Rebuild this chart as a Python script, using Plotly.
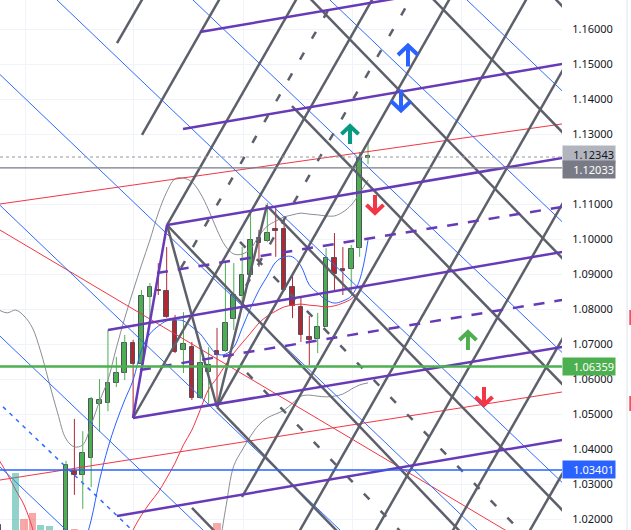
import plotly.graph_objs as go

# свічки: індекс бару і OHLC (EURUSD)
bar_idx = list(range(-8, 37))
opens = [1.0183, 1.0100, 0.9990, 1.0040, 0.9980, 0.9930, 0.9980, 1.0030,
         1.0100, 1.0338, 1.0326, 1.0374, 1.0529, 1.0531, 1.0589, 1.0617,
         1.0703, 1.0643, 1.0834, 1.0855, 1.0851, 1.0766, 1.0683, 1.0691,
         1.0546, 1.0620, 1.0680, 1.0680, 1.0771, 1.0837, 1.0897, 1.1003,
         1.0994, 1.1029, 1.1029, 1.0863, 1.0806, 1.0720, 1.0714, 1.0749,
         1.0946, 1.0914, 1.0914, 1.0974, 1.1232]
highs = [1.0195, 1.0110, 1.0060, 1.0060, 1.0000, 1.0000, 1.0050, 1.0120,
         1.0366, 1.0486, 1.0451, 1.0549, 1.0600, 1.0740, 1.0663, 1.0726,
         1.0712, 1.0854, 1.0874, 1.0931, 1.0977, 1.0783, 1.0791, 1.0706,
         1.0691, 1.0691, 1.0746, 1.0934, 1.0931, 1.0977, 1.1083, 1.1026,
         1.1103, 1.1092, 1.1054, 1.0900, 1.0834, 1.0780, 1.0789, 1.0974,
         1.1017, 1.0977, 1.0983, 1.1249, 1.1280]
lows = [1.0050, 0.9980, 0.9950, 0.9960, 0.9900, 0.9910, 0.9960, 1.0010,
        1.0080, 1.0269, 1.0229, 1.0291, 1.0449, 1.0508, 1.0577, 1.0597,
        1.0490, 1.0640, 1.0774, 1.0840, 1.0775, 1.0674, 1.0617, 1.0540,
        1.0543, 1.0526, 1.0523, 1.0677, 1.0740, 1.0823, 1.0891, 1.0920,
        1.0991, 1.0949, 1.0852, 1.0774, 1.0706, 1.0640, 1.0674, 1.0749,
        1.0851, 1.0840, 1.0846, 1.0949, 1.1214]
closes = [1.0100, 1.0000, 1.0040, 0.9980, 0.9930, 0.9980, 1.0030, 1.0100,
          1.0354, 1.0326, 1.0389, 1.0543, 1.0540, 1.0589, 1.0617, 1.0703,
          1.0643, 1.0837, 1.0863, 1.0851, 1.0777, 1.0677, 1.0700, 1.0546,
          1.0646, 1.0640, 1.0669, 1.0760, 1.0840, 1.0897, 1.0997, 1.0990,
          1.1017, 1.1023, 1.0854, 1.0809, 1.0726, 1.0711, 1.0749, 1.0946,
          1.0900, 1.0909, 1.0971, 1.1231, 1.12343]

# обсяги (видно лише кілька барів)
vol_idx = [-6, -5, -4, -3, -2, 1, 18]
vol = [108, 21, 32, 9, 8, 2, 13]
vol_up = [True, False, False, True, True, False, False]

# смуги Боллінджера та ковзні середні
bb_upper = [1.0797, 1.0789, 1.0797, 1.0780, 1.0746, 1.0677, 1.0589, 1.0503,
            1.0429, 1.0406, 1.0412, 1.0469, 1.0537, 1.0597, 1.0689, 1.0774,
            1.0852, 1.0926, 1.0997, 1.1074, 1.1134, 1.1172, 1.1174, 1.1163,
            1.1131, 1.1083, 1.1026, 1.0980, 1.0957, 1.0957, 1.0972, 1.1009,
            1.1037, 1.1051, 1.1063, 1.1069, 1.1074, 1.1071, 1.1069, 1.1066,
            1.1066, 1.1077, 1.1097, 1.1131, 1.1169]
bb_lower_idx = list(range(16, 37))
bb_lower = [0.9990, 1.0020, 1.0089, 1.0226, 1.0352, 1.0397, 1.0437, 1.0469,
            1.0489, 1.0500, 1.0511, 1.0531, 1.0551, 1.0554, 1.0551, 1.0549,
            1.0551, 1.0557, 1.0571, 1.0583, 1.0589]
ma_fast_idx = list(range(2, 37))
ma_fast = [1.0112, 1.0197, 1.0311, 1.0403, 1.0477, 1.0540, 1.0597, 1.0683,
           1.0729, 1.0751, 1.0766, 1.0769, 1.0766, 1.0749, 1.0729, 1.0697,
           1.0671, 1.0671, 1.0691, 1.0746, 1.0803, 1.0854, 1.0894, 1.0934,
           1.0949, 1.0949, 1.0923, 1.0869, 1.0846, 1.0826, 1.0817, 1.0823,
           1.0837, 1.0883, 1.0997]
ma_slow = [1.0369, 1.0329, 1.0283, 1.0240, 1.0174, 1.0083, 0.9997, 0.9950,
           0.9920, 0.9900, 0.9900, 0.9920, 0.9960, 1.0000, 1.0060, 1.0110,
           1.0169, 1.0211, 1.0246, 1.0277, 1.0317, 1.0360, 1.0412, 1.0454,
           1.0512, 1.0571, 1.0603, 1.0640, 1.0674, 1.0703, 1.0731, 1.0760,
           1.0780, 1.0794, 1.0806, 1.0811, 1.0814, 1.0811, 1.0809, 1.0806,
           1.0809, 1.0817, 1.0829, 1.0854, 1.0894]

# малюнки: відрізки [бар0, ціна0, бар1, ціна1]
gann_up = [[6.079, 1.15600, 10.417, 1.17400], [9.058, 1.12972, 19.595, 1.17400],
           [12.038, 1.10400, 28.772, 1.17400], [7.986, 1.04886, 37.831, 1.17400],
           [17.998, 1.05200, 47.008, 1.17400], [20.977, 1.02629, 56.186, 1.17400],
           [26.544, 1.01115, 61.263, 1.15686], [35.602, 1.01115, 61.263, 1.11886],
           [44.779, 1.01115, 61.263, 1.08029], [53.957, 1.01115, 61.263, 1.04172]]
gann_up_mid = [[13.707, 1.09172, 33.302, 1.17400], [21.454, 1.08658, 42.360, 1.17400]]
gann_down = [[56.138, 1.17400, 61.263, 1.16132], [41.549, 1.17400, 61.263, 1.12532],
             [26.961, 1.17400, 61.263, 1.08932], [26.937, 1.13800, 61.263, 1.05332],
             [24.076, 1.10915, 63.647, 1.01143], [12.038, 1.10400, 49.070, 1.01115],
             [17.998, 1.05200, 34.482, 1.01115], [15.018, 1.02315, 19.905, 1.01115],
             [12.038, 1.10400, 17.998, 1.05200], [17.998, 1.05200, 23.957, 1.10972]]
gann_down_mid = [[20.739, 1.09915, 56.353, 1.01115], [21.573, 1.06172, 42.002, 1.01115]]

fork_solid = [[15.971, 1.15915, 42.193, 1.16989], [13.945, 1.13143, 61.263, 1.15089],
              [12.038, 1.10400, 61.263, 1.12400], [5.006, 1.07400, 61.263, 1.09718],
              [7.986, 1.04886, 61.263, 1.07000], [6.079, 1.02086, 61.263, 1.04346],
              [7.986, 1.04886, 12.038, 1.10400]]
fork_dash = [[10.846, 1.09029, 61.263, 1.11000], [8.820, 1.06258, 61.263, 1.08343]]

blue_diag = [[-9.058, 1.03760, 61.263, 0.87686], [-9.058, 1.07498, 61.263, 0.91398],
             [-9.058, 1.11235, 61.263, 0.95138], [-9.058, 1.14972, 61.263, 0.98875],
             [-9.058, 1.18658, 61.263, 1.02558], [-9.058, 1.22369, 61.263, 1.06269],
             [-9.058, 1.26106, 61.263, 1.10006], [-9.058, 1.29846, 61.263, 1.13746]]
blue_diag_dash = [[-9.058, 1.05560, 61.263, 0.89460]]
red_lines = [[-9.058, 1.10960, 61.263, 1.13360], [-9.058, 1.03069, 61.263, 1.05709],
             [-9.058, 1.10426, 61.263, 1.00415]]

# горизонтальні рівні
last_price = 1.12343
prev_level = 1.12033
green_level = 1.06359
blue_level = 1.03401

# стрілки-сигнали: бар, ціна, напрямок, колір
arrow_x = [40.76, 39.93, 33.85, 36.83, 47.91, 49.82]
arrow_y = [1.15229, 1.13972, 1.12972, 1.11000, 1.07086, 1.05515]
arrow_up = [True, False, True, False, True, False]
arrow_col = ['#2962ff', '#2962ff', '#089981', '#f23645', '#4caf50', '#f23645']
arrow_px = [21, 21, 18, 18, 18, 18]

x_range = [-7.867, 59.12]
y_range = [1.01686, 1.16829]
time_grid = [-4.77, 7.99, 21.10, 34.09, 47.20]
price_ticks = [1.02, 1.03, 1.04, 1.05, 1.06, 1.07, 1.08, 1.09, 1.10, 1.11,
               1.13, 1.14, 1.15, 1.16]

GREEN = '#4caf50'
RED = '#b22833'
# скільки бару / ціни в одному пікселі
BAR_PX = 1 / 8.39
PRICE_PX = 1 / 3500


def seg_trace(segs, color, width, dash='solid'):
    xs, ys = [], []
    for x0, y0, x1, y1 in segs:
        xs += [x0, x1, None]
        ys += [y0, y1, None]
    return go.Scatter(x=xs, y=ys, mode='lines', hoverinfo='skip',
                      line=dict(color=color, width=width, dash=dash))


def arrow_trace(x, y, up, color, size):
    h = size / 2 * PRICE_PX
    w = size / 2 * BAR_PX * 0.95
    hh = size * 0.45 * PRICE_PX
    s = 1 if up else -1
    tip = y + s * h
    xs = [x, x, None, x - w, x, x + w]
    ys = [y - s * h, tip, None, tip - s * hh, tip, tip - s * hh]
    return go.Scatter(x=xs, y=ys, mode='lines', hoverinfo='skip',
                      line=dict(color=color, width=4))


fig = go.Figure()

# обсяги на окремій осі
fig.add_trace(go.Bar(x=vol_idx, y=vol, yaxis='y2', width=0.85, hoverinfo='skip',
                     marker=dict(color=['rgba(38,166,154,0.5)' if u else 'rgba(239,83,80,0.5)'
                                        for u in vol_up], line=dict(width=0))))

# тіні свічок
for up, col in [(True, GREEN), (False, RED)]:
    xs, ys = [], []
    for i, o, h, l, c in zip(bar_idx, opens, highs, lows, closes):
        if (c >= o) == up:
            xs += [i, i, None]
            ys += [l, h, None]
    fig.add_trace(go.Scatter(x=xs, y=ys, mode='lines', hoverinfo='skip',
                             line=dict(color=col, width=1)))

# тіла свічок
fig.add_trace(go.Bar(x=bar_idx,
                     y=[max(abs(c - o), 0.0004) for o, c in zip(opens, closes)],
                     base=[min(o, c) for o, c in zip(opens, closes)],
                     width=0.55, hoverinfo='skip',
                     marker=dict(color=[GREEN if c >= o else RED for o, c in zip(opens, closes)],
                                 line=dict(color='#50535e', width=1))))

# індикатори
fig.add_trace(go.Scatter(x=bar_idx, y=bb_upper, mode='lines', line=dict(color='#8a8d96', width=1, shape='spline')))
fig.add_trace(go.Scatter(x=bb_lower_idx, y=bb_lower, mode='lines', line=dict(color='#8a8d96', width=1, shape='spline')))
fig.add_trace(go.Scatter(x=ma_fast_idx, y=ma_fast, mode='lines', line=dict(color='#2962ff', width=1, shape='spline')))
fig.add_trace(go.Scatter(x=bar_idx, y=ma_slow, mode='lines', line=dict(color='#f23645', width=1, shape='spline')))

# малюнки
fig.add_trace(seg_trace(red_lines, '#f23645', 1))
fig.add_trace(seg_trace(blue_diag, '#2f6bff', 1))
fig.add_trace(seg_trace(blue_diag_dash, '#2f6bff', 1.5, '4px,5px'))
fig.add_trace(seg_trace(gann_up, '#5d606b', 2.5))
fig.add_trace(seg_trace(gann_down, '#5d606b', 2.5))
fig.add_trace(seg_trace(gann_up_mid, '#5d606b', 2.5, '8px,16px'))
fig.add_trace(seg_trace(gann_down_mid, '#5d606b', 2.5, '8px,16px'))
fig.add_trace(seg_trace(fork_solid, '#673ab7', 2.5))
fig.add_trace(seg_trace(fork_dash, '#673ab7', 2.5, '11px,10px'))

# горизонтальні лінії
fig.add_hline(y=last_price, line=dict(color='#9598a1', width=1, dash='dot'))
fig.add_hline(y=prev_level, line=dict(color='#787b86', width=1.2))
fig.add_hline(y=green_level, line=dict(color=GREEN, width=2.5))
fig.add_hline(y=blue_level, line=dict(color='#2962ff', width=1.5))

for x, y, up, c, s in zip(arrow_x, arrow_y, arrow_up, arrow_col, arrow_px):
    fig.add_trace(arrow_trace(x, y, up, c, s))

# мітки цін на правій шкалі
for price, bg, fg, shift in [(last_price, '#b2b5be', '#131722', 3), (prev_level, '#787b86', '#ffffff', -2),
                             (green_level, GREEN, '#ffffff', 0), (blue_level, '#2962ff', '#ffffff', 0)]:
    fig.add_annotation(xref='paper', x=1.0, xanchor='left', y=price, yref='y', yshift=shift,
                       text='%.5f' % price, showarrow=False, bgcolor=bg,
                       width=50, align='right', borderpad=1, height=15,
                       font=dict(family='Noto Sans', size=11, color=fg))

# рамка справа
fig.add_shape(type='line', xref='paper', yref='paper', x0=1.1157, x1=1.1157, y0=0, y1=1,
              line=dict(color='#e0e3eb', width=1))
for y0, y1 in [(0.387, 0.415), (0.2245, 0.253)]:
    fig.add_shape(type='line', xref='paper', yref='paper', x0=1.1212, x1=1.1212, y0=y0, y1=y1,
                  line=dict(color='#f23645', width=1.5))

fig.update_layout(width=631, height=530, margin=dict(l=0, r=69, t=0, b=0),
                  plot_bgcolor='white', paper_bgcolor='white', showlegend=False,
                  bargap=0, barmode='overlay', hovermode=False,
                  xaxis=dict(range=x_range, tickvals=time_grid, showticklabels=False,
                             gridcolor='#f0f3fa', zeroline=False, showline=False),
                  yaxis=dict(range=y_range, side='right', tickvals=price_ticks,
                             tickformat='.5f', gridcolor='#f0f3fa', zeroline=False,
                             ticks='outside', ticklen=7, tickcolor='rgba(0,0,0,0)',
                             tickfont=dict(family='Noto Sans', size=11, color='#131722')),
                  yaxis2=dict(overlaying='y', range=[0, 1000], visible=False))

# прибираємо типовий відступ сторінки і панель інструментів
fig.write_html('out.html', config={'displayModeBar': False},
               post_script="document.body.style.margin='0';")
